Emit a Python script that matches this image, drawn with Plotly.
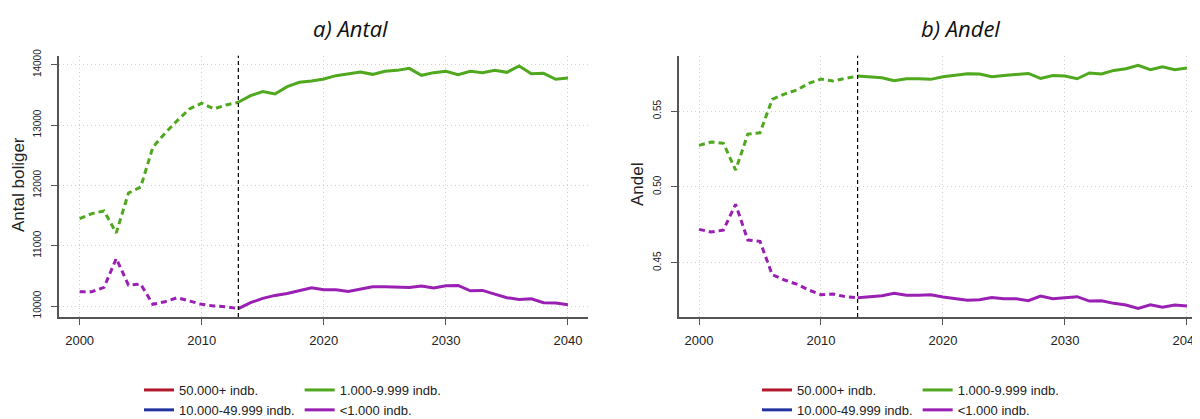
import plotly.graph_objects as go

years = list(range(2000, 2041))
split_year = 2013

series_names = ["50.000+ indb.", "10.000-49.999 indb.", "1.000-9.999 indb.", "<1.000 indb."]
series_colors = ["#b2182b", "#2233a0", "#4fa81e", "#9a20b4"]

green_antal = [11450, 11532, 11576, 11212, 11873, 11972, 12634, 12865, 13074, 13267,
               13361, 13267, 13333, 13377, 13488, 13554, 13515, 13636, 13708, 13730,
               13763, 13818, 13846, 13879, 13840, 13890, 13906, 13939, 13824, 13868,
               13890, 13835, 13890, 13868, 13906, 13873, 13978, 13851, 13857, 13758,
               13780]
purple_antal = [10237, 10237, 10309, 10788, 10347, 10364, 10028, 10072, 10138, 10083,
                10028, 10000, 9989, 9956, 10055, 10127, 10176, 10209, 10258, 10303,
                10270, 10270, 10242, 10281, 10320, 10320, 10320, 10309, 10331, 10298,
                10336, 10342, 10253, 10259, 10198, 10138, 10110, 10121, 10055, 10050,
                10022]
green_andel = [0.5274, 0.5296, 0.5287, 0.5111, 0.5348, 0.5357, 0.5577, 0.5612, 0.5638, 0.5682,
               0.5711, 0.5698, 0.5715, 0.5731, 0.5726, 0.5720, 0.5700, 0.5713, 0.5713, 0.5709,
               0.5726, 0.5735, 0.5746, 0.5744, 0.5726, 0.5735, 0.5740, 0.5748, 0.5715, 0.5735,
               0.5731, 0.5713, 0.5751, 0.5744, 0.5768, 0.5779, 0.5801, 0.5773, 0.5792, 0.5773,
               0.5784]
purple_andel = [0.4720, 0.4702, 0.4715, 0.4885, 0.4649, 0.4641, 0.4421, 0.4386, 0.4359, 0.4320,
                0.4289, 0.4293, 0.4276, 0.4269, 0.4274, 0.4282, 0.4298, 0.4285, 0.4285, 0.4289,
                0.4274, 0.4263, 0.4252, 0.4256, 0.4271, 0.4263, 0.4263, 0.4249, 0.4280, 0.4263,
                0.4267, 0.4276, 0.4247, 0.4249, 0.4232, 0.4221, 0.4199, 0.4223, 0.4206, 0.4221,
                0.4215]

x_ticks = [2000, 2010, 2020, 2030, 2040]
y_ticks_antal = [10000, 11000, 12000, 13000, 14000]
y_ticktext_antal = ["10000", "11000", "12000", "13000", "14000"]
y_ticks_andel = [0.45, 0.50, 0.55]
y_ticktext_andel = ["0.45", "0.50", "0.55"]

panel_titles = ["a) Antal", "b) Andel"]
y_titles = ["Antal boliger", "Andel"]

# The page body has an 8px margin; size the figure so it ends at the window edge.
OFF = 8
W, H = 1200 - OFF, 419 - OFF


def fx(p):
    return (p - OFF) / W


def fy(p):
    return 1 - (p - OFF) / H


fig = go.Figure()

k = years.index(split_year)
panels = [
    ("x", "y", "legend", [None, None, green_antal, purple_antal]),
    ("x2", "y2", "legend2", [None, None, green_andel, purple_andel]),
]
for xa, ya, lg, vals in panels:
    for i, (name, col, v) in enumerate(zip(series_names, series_colors, vals)):
        grp = "c1" if i < 2 else "c2"
        if v is None:
            fig.add_trace(go.Scatter(x=[None], y=[None], mode="lines", name=name,
                                     line=dict(color=col, width=3), legendgroup=grp,
                                     legend=lg, xaxis=xa, yaxis=ya, legendrank=i + 1))
            continue
        fig.add_trace(go.Scatter(x=years[:k + 1], y=v[:k + 1], mode="lines", name=name,
                                 line=dict(color=col, width=3, dash="6px,4px"),
                                 showlegend=False, legendgroup=grp, legend=lg,
                                 xaxis=xa, yaxis=ya))
        fig.add_trace(go.Scatter(x=years[k:], y=v[k:], mode="lines", name=name,
                                 line=dict(color=col, width=3), legendgroup=grp,
                                 legend=lg, xaxis=xa, yaxis=ya, legendrank=i + 1))

axis_common = dict(showline=True, linecolor="#555555", linewidth=1.5,
                   ticks="outside", ticklen=6, tickcolor="#555555", tickwidth=1.2,
                   showgrid=True, gridcolor="#d0d0d0", griddash="1px,3px", gridwidth=1,
                   zeroline=False, mirror=False, automargin=False,
                   ticklabeloverflow="allow")

ydom = [fy(317), fy(55.7)]
fig.update_layout(
    width=W, height=H,
    margin=dict(l=0, r=0, t=0, b=0, autoexpand=False),
    paper_bgcolor="white", plot_bgcolor="white",
    font=dict(family="Liberation Sans, Arial", color="#222222"),
    xaxis=dict(domain=[fx(59), fx(588)], range=[1998.31, 2041.64], tickvals=x_ticks,
               tickfont=dict(size=13, color="#222222"), ticklabelstandoff=5,
               anchor="y", **axis_common),
    yaxis=dict(domain=ydom, range=[9818, 14149], tickvals=y_ticks_antal,
               ticktext=y_ticktext_antal, tickangle=-90,
               tickfont=dict(size=10, color="#222222"), ticklabelstandoff=6,
               anchor="x", **axis_common),
    xaxis2=dict(domain=[fx(679), 1.0], range=[1998.36, 2041.07], tickvals=x_ticks,
                tickfont=dict(size=13, color="#222222"), ticklabelstandoff=5,
                anchor="y2", **axis_common),
    yaxis2=dict(domain=ydom, range=[0.4142, 0.5865], tickvals=y_ticks_andel,
                ticktext=y_ticktext_andel, tickangle=-90,
                tickfont=dict(size=10, color="#222222"), ticklabelstandoff=6,
                anchor="x2", **axis_common),
    legend=dict(orientation="h", traceorder="grouped", x=fx(139), xanchor="left",
                y=fy(375), yanchor="top", font=dict(size=13, color="#222222"),
                bgcolor="rgba(0,0,0,0)", tracegroupgap=0),
    legend2=dict(orientation="h", traceorder="grouped", x=fx(757), xanchor="left",
                 y=fy(375), yanchor="top", font=dict(size=13, color="#222222"),
                 bgcolor="rgba(0,0,0,0)", tracegroupgap=0),
    showlegend=True,
)

for xr, yr in [("x", "y domain"), ("x2", "y2 domain")]:
    fig.add_shape(type="line", xref=xr, yref=yr,
                  x0=split_year, x1=split_year, y0=0, y1=1,
                  line=dict(color="black", width=1.2, dash="4px,3px"))

# panel titles
for t, cx in zip(panel_titles, [350, 960]):
    fig.add_annotation(text="<i>" + t + "</i>", xref="paper", yref="paper",
                       x=fx(cx), y=fy(27.7), xanchor="center", yanchor="middle",
                       showarrow=False,
                       font=dict(family="Open Sans", size=22, color="#111111"))

# y-axis titles
for t, cx in zip(y_titles, [18, 637]):
    fig.add_annotation(text=t, xref="paper", yref="paper", x=fx(cx), y=fy(185),
                       xanchor="center", yanchor="middle", showarrow=False, textangle=-90,
                       font=dict(family="Liberation Sans, Arial", size=17, color="#222222"))

fig.write_html("out.html")
